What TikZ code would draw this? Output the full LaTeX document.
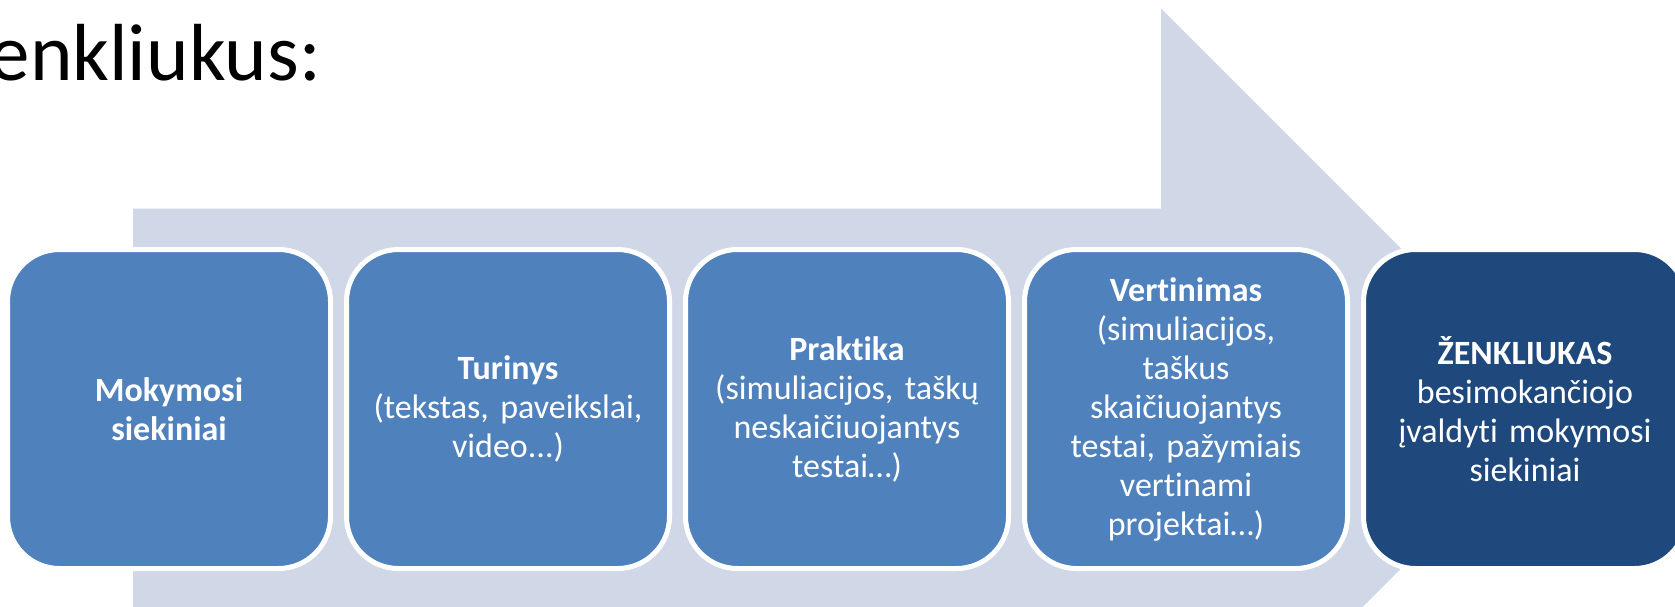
\documentclass[tikz,border=0pt]{standalone}
\usepackage{fontspec}
\setmainfont{Carlito}[Ligatures=NoCommon]
\definecolor{arrowbg}{HTML}{D0D8E8}
\definecolor{boxblue}{HTML}{4F81BD}
\definecolor{boxdark}{HTML}{1F497D}
\begin{document}
\begin{tikzpicture}[x=1pt,y=-1pt,
  stepbox/.style={draw=white, line width=5pt, rounded corners=52pt, fill=boxblue,
    minimum width=323pt, minimum height=319pt, inner sep=0pt, anchor=center},
  boxtext/.style={text=white, align=center, font=\fontsize{34}{39}\selectfont, text width=300pt, inner sep=0pt, anchor=center}]
\useasboundingbox (0,0) rectangle (1675,606);
\clip (0,0) rectangle (1675,606);
% big background arrow
\fill[arrowbg] (133,208.5) -- (1161,208.5) -- (1161,8.5) -- (1561,408.5) -- (1161,808.5) -- (1161,608.5) -- (133,608.5) -- cycle;
% title fragment
\node[anchor=base east, font=\fontsize{81}{97}\selectfont, inner sep=0pt] (title) at (321,80) {enkliukus:};
% boxes
\node[stepbox] (b1) at (169,409) {};
\node[stepbox] (b2) at (508,409) {};
\node[stepbox] (b3) at (847,409) {};
\node[stepbox] (b4) at (1186,409) {};
\node[stepbox, fill=boxdark] (b5) at (1525,409) {};
% texts
\node[boxtext] (t1) at (b1.center) {\textbf{Mokymosi}\\\textbf{siekiniai}};
\node[boxtext] (t2) at (b2.center) {\textbf{Turinys}\\(tekstas, paveikslai,\\video...)};
\node[boxtext] (t3) at (b3.center) {\textbf{Praktika}\\(simuliacijos, taškų\\neskaičiuojantys\\testai…)};
\node[boxtext] (t4) at (b4.center) {\textbf{Vertinimas}\\(simuliacijos,\\taškus\\skaičiuojantys\\testai, pažymiais\\vertinami\\projektai…)};
\node[boxtext] (t5) at (b5.center) {\textbf{ŽENKLIUKAS}\\besimokančiojo\\įvaldyti mokymosi\\siekiniai};
\end{tikzpicture}
\end{document}
